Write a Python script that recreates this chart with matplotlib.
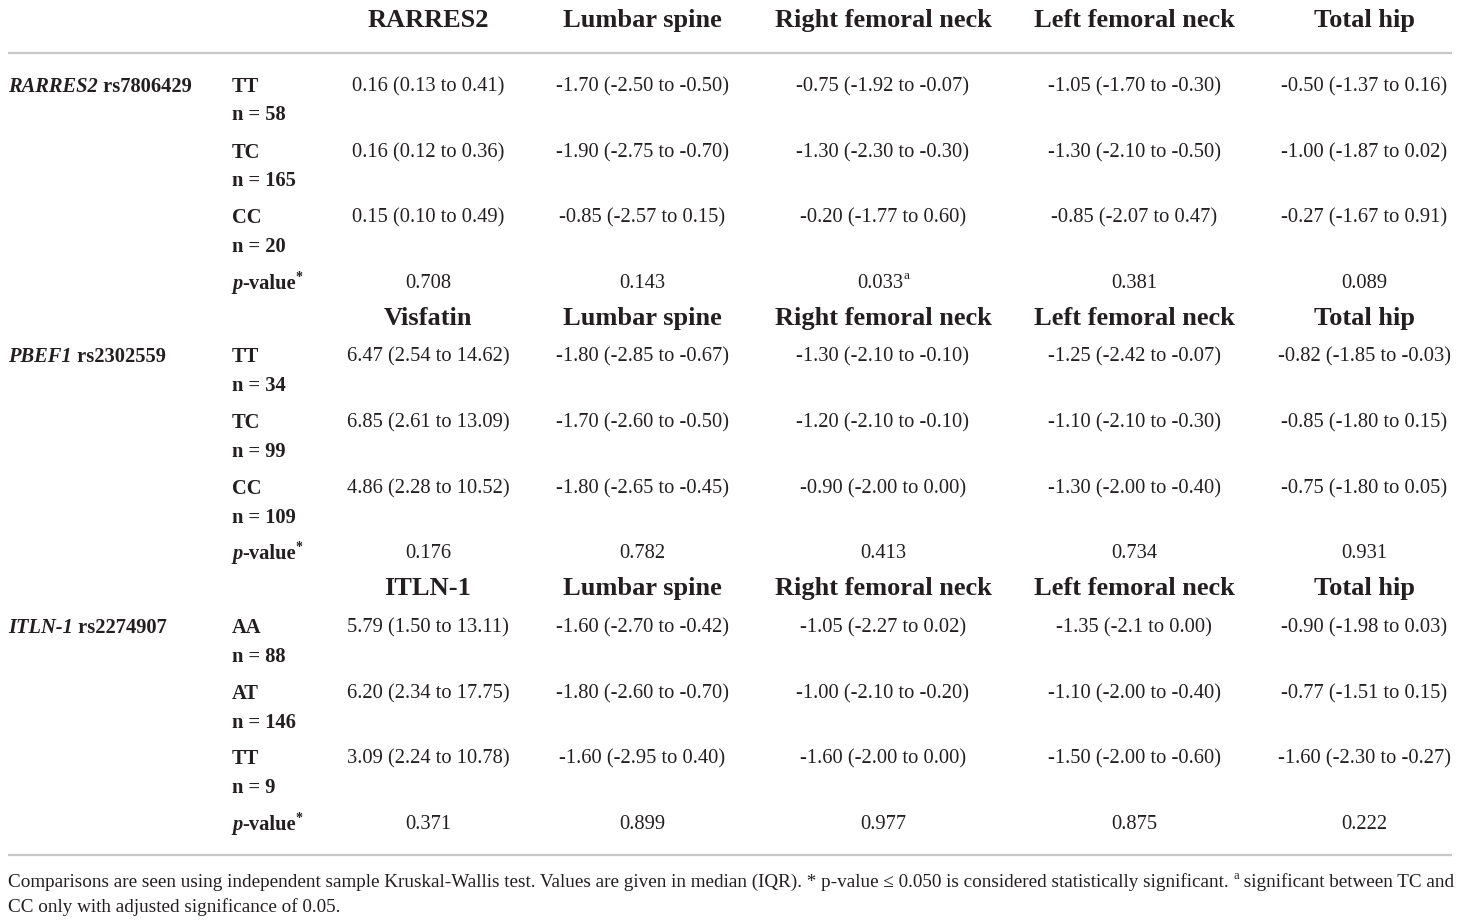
import matplotlib
matplotlib.use("Agg")
import matplotlib.pyplot as plt

FONT = "Liberation Serif"
COLOR = "#231f20"

col_headers = [
    ["RARRES2", "Lumbar spine", "Right femoral neck", "Left femoral neck", "Total hip"],
    ["Visfatin", "Lumbar spine", "Right femoral neck", "Left femoral neck", "Total hip"],
    ["ITLN-1", "Lumbar spine", "Right femoral neck", "Left femoral neck", "Total hip"],
]
gene_names = ["RARRES2", "PBEF1", "ITLN-1"]
snp_ids = ["rs7806429", "rs2302559", "rs2274907"]
genotypes = [["TT", "TC", "CC"], ["TT", "TC", "CC"], ["AA", "AT", "TT"]]
n_counts = [[58, 165, 20], [34, 99, 109], [88, 146, 9]]
values = [
    [
        ["0.16 (0.13 to 0.41)", "-1.70 (-2.50 to -0.50)", "-0.75 (-1.92 to -0.07)", "-1.05 (-1.70 to -0.30)", "-0.50 (-1.37 to 0.16)"],
        ["0.16 (0.12 to 0.36)", "-1.90 (-2.75 to -0.70)", "-1.30 (-2.30 to -0.30)", "-1.30 (-2.10 to -0.50)", "-1.00 (-1.87 to 0.02)"],
        ["0.15 (0.10 to 0.49)", "-0.85 (-2.57 to 0.15)", "-0.20 (-1.77 to 0.60)", "-0.85 (-2.07 to 0.47)", "-0.27 (-1.67 to 0.91)"],
    ],
    [
        ["6.47 (2.54 to 14.62)", "-1.80 (-2.85 to -0.67)", "-1.30 (-2.10 to -0.10)", "-1.25 (-2.42 to -0.07)", "-0.82 (-1.85 to -0.03)"],
        ["6.85 (2.61 to 13.09)", "-1.70 (-2.60 to -0.50)", "-1.20 (-2.10 to -0.10)", "-1.10 (-2.10 to -0.30)", "-0.85 (-1.80 to 0.15)"],
        ["4.86 (2.28 to 10.52)", "-1.80 (-2.65 to -0.45)", "-0.90 (-2.00 to 0.00)", "-1.30 (-2.00 to -0.40)", "-0.75 (-1.80 to 0.05)"],
    ],
    [
        ["5.79 (1.50 to 13.11)", "-1.60 (-2.70 to -0.42)", "-1.05 (-2.27 to 0.02)", "-1.35 (-2.1 to 0.00)", "-0.90 (-1.98 to 0.03)"],
        ["6.20 (2.34 to 17.75)", "-1.80 (-2.60 to -0.70)", "-1.00 (-2.10 to -0.20)", "-1.10 (-2.00 to -0.40)", "-0.77 (-1.51 to 0.15)"],
        ["3.09 (2.24 to 10.78)", "-1.60 (-2.95 to 0.40)", "-1.60 (-2.00 to 0.00)", "-1.50 (-2.00 to -0.60)", "-1.60 (-2.30 to -0.27)"],
    ],
]
p_values = [
    ["0.708", "0.143", "0.033", "0.381", "0.089"],
    ["0.176", "0.782", "0.413", "0.734", "0.931"],
    ["0.371", "0.899", "0.977", "0.875", "0.222"],
]
p_superscripts = [["", "", "a", "", ""], ["", "", "", "", ""], ["", "", "", "", ""]]
footnote_lines = [
    "Comparisons are seen using independent sample Kruskal-Wallis test. Values are given in median (IQR). * p-value \u2264 0.050 is considered statistically significant. ",
    "CC only with adjusted significance of 0.05.",
]
footnote_sup = "a"
footnote_tail = " significant between TC and"

W, H = 1460, 921
fig = plt.figure(figsize=(W / 100, H / 100), dpi=100)
ax = fig.add_axes([0, 0, 1, 1])
ax.set_xlim(0, W)
ax.set_ylim(H, 0)
ax.axis("off")
renderer = fig.canvas.get_renderer()

col_x = [428, 642, 883, 1134, 1364]
gene_x = 8
geno_x = 232
HEAD_FS = 19
BODY_FS = 14.8
FOOT_FS = 13.75


def put(x, y, s, **kw):
    base = dict(family=FONT, color=COLOR, va="center_baseline", fontsize=BODY_FS)
    base.update(kw)
    return ax.text(x, y, s, **base)


def right_edge(t):
    bb = t.get_window_extent(renderer)
    return ax.transData.inverted().transform((bb.x1, bb.y0))[0]


def chain(x, y, parts, ha="left"):
    texts = []
    cx = x
    for s, kw, dy in parts:
        t = put(cx, y + dy, s, ha="left", **kw)
        texts.append(t)
        cx = right_edge(t)
    if ha == "center":
        shift = (cx - x) / 2
        for t in texts:
            px, py = t.get_position()
            t.set_x(px - shift)
    return texts


header_y = [18, 316, 586]
row_y = [[84, 150, 215], [354, 420, 486], [625, 691, 756]]
n_dy = 29
p_y = [281, 551, 822]

for si in range(3):
    for ci, h in enumerate(col_headers[si]):
        put(col_x[ci], header_y[si], h, ha="center", fontsize=HEAD_FS, weight="bold")
    chain(gene_x, row_y[si][0], [
        (gene_names[si], dict(weight="bold", style="italic"), 0),
        (" " + snp_ids[si], dict(weight="bold"), 0),
    ])
    for ri in range(3):
        y = row_y[si][ri]
        put(geno_x, y, genotypes[si][ri], ha="left", weight="bold")
        put(geno_x, y + n_dy, f"n = {n_counts[si][ri]}", ha="left", weight="bold")
        for ci in range(5):
            put(col_x[ci], y, values[si][ri][ci], ha="center")
    chain(geno_x, p_y[si], [
        ("p", dict(weight="bold", style="italic"), 0),
        ("-value", dict(weight="bold"), 0),
        ("*", dict(weight="bold", fontsize=10), -5),
    ])
    for ci in range(5):
        parts = [(p_values[si][ci], {}, 0)]
        if p_superscripts[si][ci]:
            parts.append((p_superscripts[si][ci], dict(fontsize=9.5), -7))
        chain(col_x[ci], p_y[si], parts, ha="center")

ax.plot([8, 1452], [53, 53], color="#c8c8c8", lw=1.6, solid_capstyle="butt")
ax.plot([8, 1452], [855, 855], color="#c8c8c8", lw=1.6, solid_capstyle="butt")

chain(gene_x, 880, [
    (footnote_lines[0], dict(fontsize=FOOT_FS), 0),
    (footnote_sup, dict(fontsize=9), -6),
    (footnote_tail, dict(fontsize=FOOT_FS), 0),
])
put(gene_x, 905, footnote_lines[1], ha="left", fontsize=FOOT_FS)

fig.savefig("out.png", dpi=100)
